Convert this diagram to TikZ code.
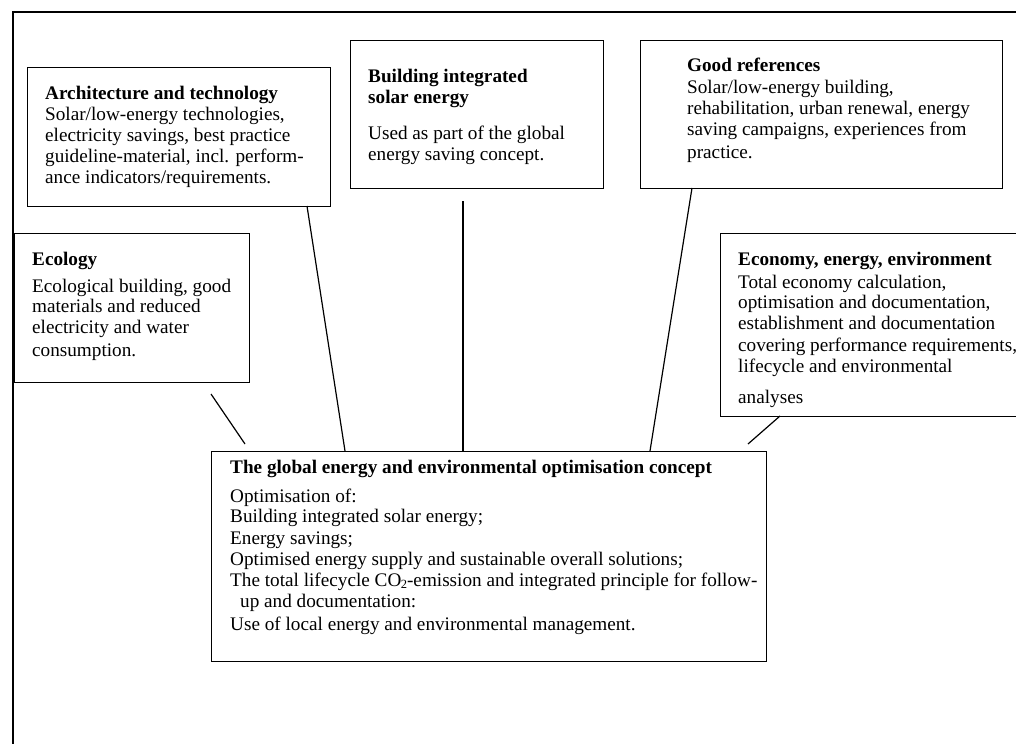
\documentclass[tikz,border=0pt]{standalone}
\usepackage{fontspec}
\setmainfont{Liberation Serif}
\begin{document}
\begin{tikzpicture}[x=1bp,y=-1bp,
  frame/.style={draw=black, line width=1.3bp, inner sep=0pt, anchor=north west},
  txt/.style={anchor=base west, inner sep=0pt, font=\fontsize{19.2bp}{20.8bp}\selectfont},
  link/.style={draw=black, line width=1.2bp}]
\clip (0,0) rectangle (1016,744);
\fill[white] (0,0) rectangle (1016,744);
% outer frame
\draw[line width=2bp] (13,760) -- (13,12) -- (1030,12);
% boxes
\node[frame, minimum width=303bp, minimum height=139bp] (arch) at (27,67) {};
\node[frame, minimum width=253bp, minimum height=148bp] (bise) at (350,40) {};
\node[frame, minimum width=362bp, minimum height=148bp] (good) at (640,40) {};
\node[frame, minimum width=235bp, minimum height=149bp] (eco) at (14,233) {};
\node[frame, minimum width=320bp, minimum height=183bp] (econ) at (720,233) {};
\node[frame, minimum width=555bp, minimum height=210bp] (glob) at (211,451) {};
% texts
\node[txt] (archT) at (45,100) {\begin{tabular}[t]{@{}l@{}}
\textbf{Architecture and technology}\\
Solar/low-energy technologies,\\
electricity savings, best practice\\
guideline-material, incl. perform-\\
ance indicators/requirements.\end{tabular}};
\node[txt] (biseT) at (368,83) {\begin{tabular}[t]{@{}l@{}}
\textbf{Building integrated}\\
\textbf{solar energy}\\[15.2bp]
Used as part of the global\\
energy saving concept.\end{tabular}};
\node[txt] (goodT) at (687,72) {\begin{tabular}[t]{@{}l@{}}
\textbf{Good references}\\[1.2bp]
Solar/low-energy building,\\
rehabilitation, urban renewal, energy\\
saving campaigns, experiences from\\[2.2bp]
practice.\end{tabular}};
\node[txt] (ecoT) at (32,265) {\begin{tabular}[t]{@{}l@{}}
\textbf{Ecology}\\[6.2bp]
Ecological building, good\\
materials and reduced\\
electricity and water\\[2.2bp]
consumption.\end{tabular}};
\node[txt] (econT) at (738,265) {\begin{tabular}[t]{@{}l@{}}
\textbf{Economy, energy, environment}\\[2.2bp]
Total economy calculation,\\
optimisation and documentation,\\
establishment and documentation\\[1.2bp]
covering performance requirements,\\
lifecycle and environmental\\[10bp]
analyses\end{tabular}};
\node[txt] (globT) at (230,473) {\begin{tabular}[t]{@{}l@{}}
\textbf{The global energy and environmental optimisation concept}\\[8.2bp]
Optimisation of:\\
Building integrated solar energy;\\[1.2bp]
Energy savings;\\
Optimised energy supply and sustainable overall solutions;\\
The total lifecycle CO\kern-0.5bp\raisebox{-2.5bp}{\fontsize{12.5bp}{12bp}\selectfont 2}-emission and integrated principle for follow-\\
\hspace{10bp}up and documentation:\\[2.2bp]
Use of local energy and environmental management.\end{tabular}};
% connector end points
\coordinate (ecoA) at (211,394);
\coordinate (ecoB) at (245,444);
\coordinate (archA) at (307,206);
\coordinate (archB) at (345,451);
\coordinate (biseA) at (463,201);
\coordinate (biseB) at (463,451);
\coordinate (goodA) at (692,188);
\coordinate (goodB) at (650,451);
\coordinate (econA) at (780,416);
\coordinate (econB) at (748,444);
% connectors
\draw[link] (ecoA) -- (ecoB);
\draw[link] (archA) -- (archB);
\draw[link] (biseA) -- (biseB);
\draw[link] (goodA) -- (goodB);
\draw[link] (econA) -- (econB);
\end{tikzpicture}
\end{document}
